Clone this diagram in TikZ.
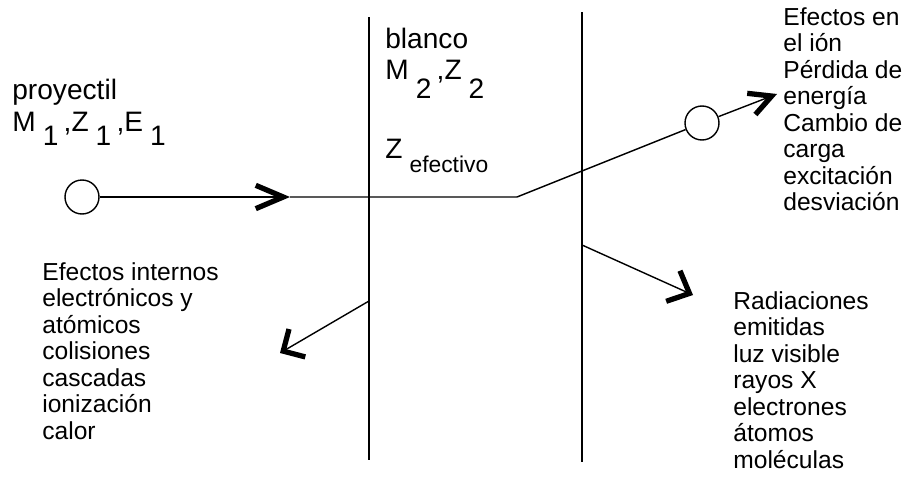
\documentclass[tikz,border=0pt]{standalone}
\usepackage{fontspec}
\setmainfont{Liberation Sans}
\usetikzlibrary{arrows.meta, positioning}

\newcommand{\lowsub}[2][8.5pt]{\hspace{4pt}\raisebox{-#1}{#2}\hspace{3pt}}

\begin{document}
\begin{tikzpicture}[
    x=0.02cm, y=-0.02cm,
    wall/.style={line width=1pt},
    track/.style={line width=0.8pt},
    ion/.style={circle, draw, line width=0.8pt, minimum size=0.68cm, inner sep=0pt},
    arrow/.style={track, -{Straight Barb[angle=#1, line width=3pt]}},
    arrow/.default={60:14pt},
    big/.style={inner sep=0pt, font=\fontsize{16}{18}\selectfont},
    effects/.style={inner sep=0pt, align=left, font=\fontsize{14}{15.07}\selectfont}
]
    \useasboundingbox (0,0) rectangle (907,490);

    %% Target walls
    \coordinate (wl top) at (369,17);
    \coordinate (wl bot) at (369,460);
    \coordinate (wr top) at (582,12);
    \coordinate (wr bot) at (582,462);
    \draw[wall] (wl top) -- (wl bot);
    \draw[wall] (wr top) -- (wr bot);

    %% Projectile track
    \node[ion] (proj) at (82,197) {};
    \coordinate (mid) at (290,197);
    \coordinate (bend) at (517,197);
    \node[ion] (ion out) at (702,123) {};
    \coordinate (tip ion) at (777,94);
    \draw[arrow=46:17pt] (proj) -- (mid);
    \draw[track] (mid) -- (bend) -- (ion out);
    \draw[arrow=55:14pt] (ion out) -- (tip ion);

    %% Secondary effects
    \coordinate (wl hit) at (369,301);
    \coordinate (tip int) at (280,353);
    \coordinate (wr hit) at (582,245);
    \coordinate (tip rad) at (693,295);
    \draw[arrow=90:13pt] (wl hit) -- (tip int);
    \draw[arrow=86:14pt] (wr hit) -- (tip rad);

    %% Labels
    \node[big, anchor=base west] (proj name) at (12,99) {proyectil};
    \node[big, anchor=base west] (proj par) at (12,131) {M\lowsub{1},Z\lowsub{1},E\lowsub{1}};
    \node[big, anchor=base west] (tgt name) at (385,49) {blanco};
    \node[big, anchor=base west] (tgt par) at (385,79) {M\lowsub[11pt]{2},Z\lowsub[11pt]{2}};
    \node[big, anchor=base west] (zeff) at (385,158)
        {Z\hspace{4pt}\raisebox{-8pt}{\fontsize{13}{15}\selectfont efectivo}};

    \node[effects, anchor=north west] (ion fx) at (783,7)
        {Efectos en\\el ión\\Pérdida de\\energía\\Cambio de\\carga\\excitación\\desviación};
    \node[effects, anchor=north west] (int fx) at (42,262)
        {Efectos internos\\electrónicos y\\atómicos\\colisiones\\cascadas\\ionización\\calor};
    \node[effects, anchor=north west] (rad fx) at (733,291)
        {Radiaciones\\emitidas\\luz visible\\rayos X\\electrones\\átomos\\moléculas};
\end{tikzpicture}
\end{document}
